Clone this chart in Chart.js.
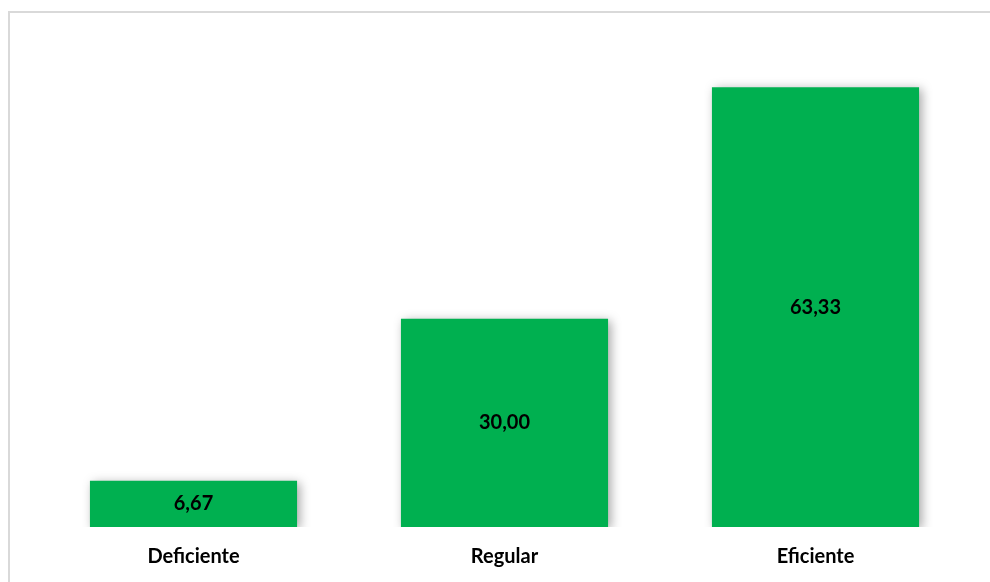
<!DOCTYPE html>
<html>
<head>
<meta charset="utf-8">
<script src="https://cdn.jsdelivr.net/npm/chart.js@4.4.1/dist/chart.umd.min.js"></script>
<style>
  html, body { margin: 0; padding: 0; background: #fff; }
  #wrap { width: 990px; height: 582px; position: relative; }
</style>
</head>
<body>
<div id="wrap"><canvas id="chart"></canvas></div>
<script>
const categories = ['Deficiente', 'Regular', 'Eficiente'];
const values = [6.67, 30.00, 63.33];
const valueLabels = ['6,67', '30,00', '63,33'];

const FONT = 'Lato, "Open Sans", sans-serif';

// Frame around the chart (cut off at right/bottom like the original)
const framePlugin = {
  id: 'frame',
  beforeDraw(chart) {
    const ctx = chart.ctx;
    ctx.save();
    ctx.strokeStyle = '#d9d9d9';
    ctx.lineWidth = 2;
    ctx.strokeRect(9, 12, 1200, 1200);
    ctx.restore();
  }
};

// Soft shadow under the bars
const shadowPlugin = {
  id: 'barShadow',
  beforeDatasetsDraw(chart) {
    const ctx = chart.ctx;
    ctx.save();
    ctx.shadowColor = 'rgba(0,0,0,0.35)';
    ctx.shadowBlur = 10;
    ctx.shadowOffsetX = 3;
    ctx.shadowOffsetY = 2;
  },
  afterDatasetsDraw(chart) {
    chart.ctx.restore();
  }
};

// Value labels centred in each bar
const valueLabelPlugin = {
  id: 'valueLabels',
  afterDatasetsDraw(chart) {
    const ctx = chart.ctx;
    const meta = chart.getDatasetMeta(0);
    ctx.save();
    ctx.font = 'bold 20px ' + FONT;
    ctx.fillStyle = '#000';
    ctx.textAlign = 'center';
    ctx.textBaseline = 'middle';
    meta.data.forEach((bar, i) => {
      const y = (bar.y + bar.base) / 2;
      ctx.fillText(valueLabels[i], bar.x, y);
    });
    ctx.restore();
  }
};

new Chart(document.getElementById('chart'), {
  type: 'bar',
  data: {
    labels: categories,
    datasets: [{
      data: values,
      backgroundColor: '#00b050',
      borderWidth: 0,
      barPercentage: 0.666,
      categoryPercentage: 1
    }]
  },
  options: {
    responsive: true,
    maintainAspectRatio: false,
    animation: false,
    layout: { padding: { left: 38, right: 19, top: 41, bottom: 0 } },
    plugins: {
      legend: { display: false },
      tooltip: { enabled: false }
    },
    scales: {
      x: {
        grid: { display: false, drawTicks: false },
        border: { display: false },
        afterFit(scale) { scale.height = 55; },
        ticks: {
          padding: 18,
          color: '#000',
          font: { family: FONT, size: 20, weight: 'bold' }
        }
      },
      y: {
        display: false,
        min: 0,
        max: 70
      }
    }
  },
  plugins: [framePlugin, shadowPlugin, valueLabelPlugin]
});
</script>
</body>
</html>
